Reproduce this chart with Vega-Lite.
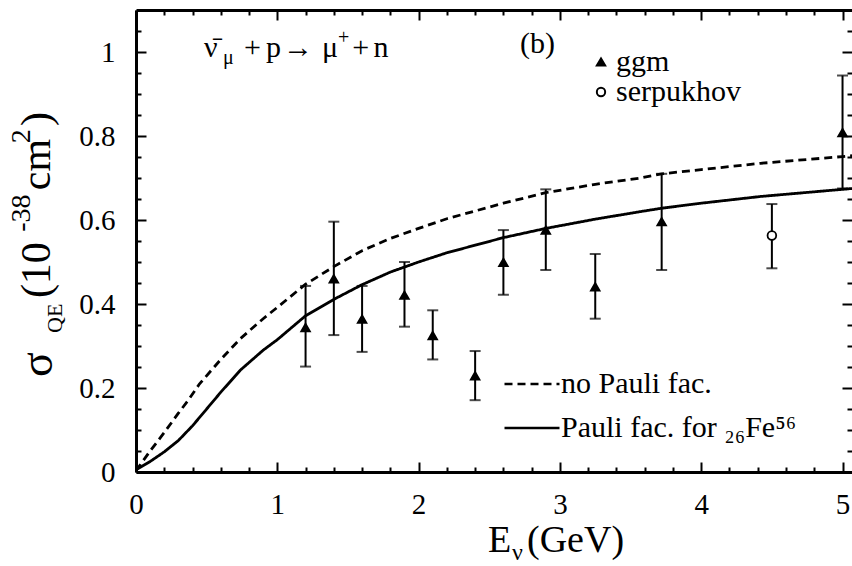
{
"$schema":"https://vega.github.io/schema/vega-lite/v6.json",
"width":716,"height":462,
"autosize":{"type":"none"},
"padding":{"left":136,"top":10,"right":0,"bottom":94},
"background":"white",
"config":{"view":{"stroke":null},
 "font":"Liberation Serif, Times New Roman, Times, serif",
 "axis":{"grid":false,"tickColor":"black","tickWidth":2,"domainColor":"black","domainWidth":3,"labelFont":"Liberation Serif, Times New Roman, Times, serif","labelFontSize":29,"labelColor":"black","labelFlush":false},
 "legend":{"labelFont":"Liberation Serif, Times New Roman, Times, serif","labelColor":"black","labelLimit":500}},
"datasets":{
 "curves":[
  {"curve":"no Pauli fac.","E":0,"sigma":0.003},{"curve":"no Pauli fac.","E":0.1,"sigma":0.05},{"curve":"no Pauli fac.","E":0.2,"sigma":0.094},{"curve":"no Pauli fac.","E":0.3,"sigma":0.14},{"curve":"no Pauli fac.","E":0.37,"sigma":0.171},{"curve":"no Pauli fac.","E":0.45,"sigma":0.21},{"curve":"no Pauli fac.","E":0.6,"sigma":0.268},{"curve":"no Pauli fac.","E":0.74,"sigma":0.318},{"curve":"no Pauli fac.","E":0.9,"sigma":0.365},{"curve":"no Pauli fac.","E":1.0,"sigma":0.392},{"curve":"no Pauli fac.","E":1.2,"sigma":0.447},{"curve":"no Pauli fac.","E":1.4,"sigma":0.489},{"curve":"no Pauli fac.","E":1.6,"sigma":0.527},{"curve":"no Pauli fac.","E":1.8,"sigma":0.556},{"curve":"no Pauli fac.","E":2.0,"sigma":0.58},{"curve":"no Pauli fac.","E":2.2,"sigma":0.603},{"curve":"no Pauli fac.","E":2.6,"sigma":0.64},{"curve":"no Pauli fac.","E":2.9,"sigma":0.665},{"curve":"no Pauli fac.","E":3.25,"sigma":0.685},{"curve":"no Pauli fac.","E":3.57,"sigma":0.7},{"curve":"no Pauli fac.","E":3.72,"sigma":0.71},{"curve":"no Pauli fac.","E":4.0,"sigma":0.72},{"curve":"no Pauli fac.","E":4.42,"sigma":0.735},{"curve":"no Pauli fac.","E":5.0,"sigma":0.751},{"curve":"no Pauli fac.","E":5.067,"sigma":0.753},
  {"curve":"Pauli fac. for ₂₆Fe⁵⁶","E":0,"sigma":0.005},{"curve":"Pauli fac. for ₂₆Fe⁵⁶","E":0.1,"sigma":0.025},{"curve":"Pauli fac. for ₂₆Fe⁵⁶","E":0.2,"sigma":0.048},{"curve":"Pauli fac. for ₂₆Fe⁵⁶","E":0.3,"sigma":0.075},{"curve":"Pauli fac. for ₂₆Fe⁵⁶","E":0.4,"sigma":0.11},{"curve":"Pauli fac. for ₂₆Fe⁵⁶","E":0.5,"sigma":0.15},{"curve":"Pauli fac. for ₂₆Fe⁵⁶","E":0.6,"sigma":0.19},{"curve":"Pauli fac. for ₂₆Fe⁵⁶","E":0.74,"sigma":0.243},{"curve":"Pauli fac. for ₂₆Fe⁵⁶","E":0.9,"sigma":0.29},{"curve":"Pauli fac. for ₂₆Fe⁵⁶","E":1.0,"sigma":0.315},{"curve":"Pauli fac. for ₂₆Fe⁵⁶","E":1.2,"sigma":0.372},{"curve":"Pauli fac. for ₂₆Fe⁵⁶","E":1.4,"sigma":0.411},{"curve":"Pauli fac. for ₂₆Fe⁵⁶","E":1.6,"sigma":0.446},{"curve":"Pauli fac. for ₂₆Fe⁵⁶","E":1.8,"sigma":0.476},{"curve":"Pauli fac. for ₂₆Fe⁵⁶","E":2.0,"sigma":0.5},{"curve":"Pauli fac. for ₂₆Fe⁵⁶","E":2.2,"sigma":0.522},{"curve":"Pauli fac. for ₂₆Fe⁵⁶","E":2.6,"sigma":0.558},{"curve":"Pauli fac. for ₂₆Fe⁵⁶","E":2.9,"sigma":0.58},{"curve":"Pauli fac. for ₂₆Fe⁵⁶","E":3.25,"sigma":0.602},{"curve":"Pauli fac. for ₂₆Fe⁵⁶","E":3.57,"sigma":0.62},{"curve":"Pauli fac. for ₂₆Fe⁵⁶","E":3.72,"sigma":0.628},{"curve":"Pauli fac. for ₂₆Fe⁵⁶","E":4.0,"sigma":0.64},{"curve":"Pauli fac. for ₂₆Fe⁵⁶","E":4.42,"sigma":0.656},{"curve":"Pauli fac. for ₂₆Fe⁵⁶","E":5.0,"sigma":0.673},{"curve":"Pauli fac. for ₂₆Fe⁵⁶","E":5.067,"sigma":0.675}
 ],
 "points":[
  {"exp":"ggm","E":1.2,"sigma":0.344,"lo":0.251,"hi":0.443},
  {"exp":"ggm","E":1.4,"sigma":0.46,"lo":0.326,"hi":0.596},
  {"exp":"ggm","E":1.6,"sigma":0.364,"lo":0.286,"hi":0.443},
  {"exp":"ggm","E":1.9,"sigma":0.421,"lo":0.346,"hi":0.5},
  {"exp":"ggm","E":2.1,"sigma":0.325,"lo":0.268,"hi":0.385},
  {"exp":"ggm","E":2.4,"sigma":0.229,"lo":0.171,"hi":0.288},
  {"exp":"ggm","E":2.6,"sigma":0.499,"lo":0.422,"hi":0.576},
  {"exp":"ggm","E":2.9,"sigma":0.576,"lo":0.481,"hi":0.673},
  {"exp":"ggm","E":3.25,"sigma":0.441,"lo":0.365,"hi":0.519},
  {"exp":"ggm","E":3.72,"sigma":0.596,"lo":0.481,"hi":0.71},
  {"exp":"ggm","E":5.0,"sigma":0.808,"lo":0.675,"hi":0.944},
  {"exp":"serpukhov","E":4.5,"sigma":0.563,"lo":0.485,"hi":0.638}
 ],
 "labels":[
  {"part":"r30","x":0.481,"y":0.988,"text":"ν̄"},
  {"part":"r30","x":0.765,"y":0.988,"text":"+"},
  {"part":"r30","x":0.92,"y":0.988,"text":"p"},
  {"part":"r30","x":1.04,"y":0.988,"text":"→"},
  {"part":"r30","x":1.316,"y":0.988,"text":"μ"},
  {"part":"r30","x":1.53,"y":0.988,"text":"+"},
  {"part":"r30","x":1.68,"y":0.988,"text":"n"},
  {"part":"r30","x":2.718,"y":0.998,"text":"(b)"},
  {"part":"rsub","x":0.616,"y":0.971,"text":"μ"},
  {"part":"rsup","x":1.43,"y":1.019,"text":"+"},
  {"part":"xt","x":2.491,"y":-0.19,"text":"E"},
  {"part":"xt","x":2.767,"y":-0.19,"text":"(GeV)"},
  {"part":"xsub","x":2.661,"y":-0.209,"text":"ν"},
  {"part":"ysig","x":-0.594,"y":0.226,"text":"σ"},
  {"part":"ysub","x":-0.524,"y":0.331,"text":"QE"},
  {"part":"yt","x":-0.609,"y":0.414,"text":"(10"},
  {"part":"yt","x":-0.609,"y":0.671,"text":"cm"},
  {"part":"yt","x":-0.609,"y":0.824,"text":")"},
  {"part":"ysup","x":-0.75,"y":0.572,"text":"-38"},
  {"part":"ysup","x":-0.75,"y":0.783,"text":"2"}
 ]
},
"layer":[
 {"data":{"name":"curves"},
  "mark":{"type":"line","color":"black","strokeWidth":2.8,"clip":true},
  "encoding":{
   "x":{"field":"E","type":"quantitative","scale":{"domain":[0,5.067],"nice":false,"zero":false},
        "axis":{"orient":"bottom","values":[0,1,2,3,4,5],"format":"d","tickSize":-10,"labelPadding":28,"domain":true,"title":null,"labelFlush":false}},
   "y":{"field":"sigma","type":"quantitative","scale":{"domain":[0,1.1],"nice":false,"zero":false},
        "axis":{"orient":"left","values":[0,0.2,0.4,0.6,0.8,1],"format":"~g","tickSize":-10,"labelPadding":31,"domain":true,"title":null,"labelFlush":false}},
   "strokeDash":{"field":"curve","type":"nominal",
     "scale":{"domain":["no Pauli fac.","Pauli fac. for ₂₆Fe⁵⁶"],"range":[[8,5],[1,0]]},
     "legend":{"orient":"none","legendX":367,"legendY":345,"title":null,"labelFont":"Liberation Serif, Times New Roman, Times, serif","labelFontSize":30,"symbolType":"stroke","symbolSize":3025,"symbolStrokeWidth":2.5,"symbolStrokeColor":"black","labelOffset":0,"padding":0,"rowPadding":0}}
  }},
 {"data":{"name":"points"},
  "mark":{"type":"rule","color":"black","strokeWidth":2},
  "encoding":{
   "x":{"field":"E","type":"quantitative","scale":{"domain":[0,5.067],"nice":false,"zero":false},
        "axis":{"orient":"bottom","values":[0.2,0.4,0.6,0.8,1.2,1.4,1.6,1.8,2.2,2.4,2.6,2.8,3.2,3.4,3.6,3.8,4.2,4.4,4.6,4.8],"tickSize":-5,"labels":false,"domain":false,"title":null}},
   "y":{"field":"lo","type":"quantitative","scale":{"domain":[0,1.1],"nice":false,"zero":false},
        "axis":{"orient":"left","values":[0.05,0.1,0.15,0.25,0.3,0.35,0.45,0.5,0.55,0.65,0.7,0.75,0.85,0.9,0.95,1.05],"tickSize":-5,"labels":false,"domain":false,"title":null}},
   "y2":{"field":"hi"}
  }},
 {"data":{"name":"points"},
  "mark":{"type":"tick","orient":"horizontal","color":"black","size":11,"thickness":2},
  "encoding":{
   "x":{"field":"E","type":"quantitative","scale":{"domain":[0,5.067],"nice":false,"zero":false},
        "axis":{"orient":"top","values":[0,1,2,3,4,5],"tickSize":-10,"labels":false,"domain":true,"title":null}},
   "y":{"field":"lo","type":"quantitative","scale":{"domain":[0,1.1],"nice":false,"zero":false},
        "axis":{"orient":"right","values":[0,0.2,0.4,0.6,0.8,1],"tickSize":-10,"labels":false,"domain":false,"title":null}}
  }},
 {"data":{"name":"points"},
  "mark":{"type":"tick","orient":"horizontal","color":"black","size":11,"thickness":2},
  "encoding":{
   "x":{"field":"E","type":"quantitative","scale":{"domain":[0,5.067],"nice":false,"zero":false},
        "axis":{"orient":"top","values":[0.2,0.4,0.6,0.8,1.2,1.4,1.6,1.8,2.2,2.4,2.6,2.8,3.2,3.4,3.6,3.8,4.2,4.4,4.6,4.8],"tickSize":-5,"labels":false,"domain":false,"title":null}},
   "y":{"field":"hi","type":"quantitative","scale":{"domain":[0,1.1],"nice":false,"zero":false},
        "axis":{"orient":"right","values":[0.05,0.1,0.15,0.25,0.3,0.35,0.45,0.5,0.55,0.65,0.7,0.75,0.85,0.9,0.95,1.05],"tickSize":-5,"labels":false,"domain":false,"title":null}}
  }},
 {"data":{"name":"points"},
  "mark":{"type":"point","filled":true,"strokeWidth":1.8,"opacity":1,"size":75},
  "encoding":{
   "x":{"field":"E","type":"quantitative","scale":{"domain":[0,5.067],"nice":false,"zero":false},"axis":null},
   "y":{"field":"sigma","type":"quantitative","scale":{"domain":[0,1.1],"nice":false,"zero":false},"axis":null},
   "shape":{"field":"exp","type":"nominal","scale":{"domain":["ggm","serpukhov"],"range":["triangle-up","circle"]},
     "legend":{"orient":"none","legendX":450,"legendY":37,"title":null,"labelFont":"Liberation Serif, Times New Roman, Times, serif","labelFontSize":30,"symbolSize":70,"symbolStrokeWidth":2,"labelOffset":0,"padding":0,"rowPadding":0}},
   "fill":{"field":"exp","type":"nominal","scale":{"domain":["ggm","serpukhov"],"range":["black","white"]},
     "legend":{"orient":"none","legendX":450,"legendY":37,"title":null,"labelFont":"Liberation Serif, Times New Roman, Times, serif","labelFontSize":30,"symbolSize":70,"symbolStrokeWidth":2,"labelOffset":0,"padding":0,"rowPadding":0}},
   "stroke":{"field":"exp","type":"nominal","scale":{"domain":["ggm","serpukhov"],"range":["black","black"]},
     "legend":{"orient":"none","legendX":450,"legendY":37,"title":null,"labelFont":"Liberation Serif, Times New Roman, Times, serif","labelFontSize":30,"symbolSize":70,"symbolStrokeWidth":2,"labelOffset":0,"padding":0,"rowPadding":0}}
  }},
 {"data":{"name":"labels"},"transform":[{"filter":"datum.part==='r30'"}],
  "mark":{"type":"text","align":"left","baseline":"alphabetic","font":"Liberation Serif, Times New Roman, Times, serif","fontSize":30,"color":"black"},
  "encoding":{"x":{"field":"x","type":"quantitative","scale":{"domain":[0,5.067],"nice":false,"zero":false},"axis":null},
   "y":{"field":"y","type":"quantitative","scale":{"domain":[0,1.1],"nice":false,"zero":false},"axis":null},"text":{"field":"text"}}},
 {"data":{"name":"labels"},"transform":[{"filter":"datum.part==='rsub' || datum.part==='rsup'"}],
  "mark":{"type":"text","align":"left","baseline":"alphabetic","font":"Liberation Serif, Times New Roman, Times, serif","fontSize":20,"color":"black"},
  "encoding":{"x":{"field":"x","type":"quantitative","scale":{"domain":[0,5.067],"nice":false,"zero":false},"axis":null},
   "y":{"field":"y","type":"quantitative","scale":{"domain":[0,1.1],"nice":false,"zero":false},"axis":null},"text":{"field":"text"}}},
 {"data":{"name":"labels"},"transform":[{"filter":"datum.part==='xt'"}],
  "mark":{"type":"text","align":"left","baseline":"alphabetic","font":"Liberation Serif, Times New Roman, Times, serif","fontSize":38,"color":"black"},
  "encoding":{"x":{"field":"x","type":"quantitative","scale":{"domain":[0,5.067],"nice":false,"zero":false},"axis":null},
   "y":{"field":"y","type":"quantitative","scale":{"domain":[0,1.1],"nice":false,"zero":false},"axis":null},"text":{"field":"text"}}},
 {"data":{"name":"labels"},"transform":[{"filter":"datum.part==='xsub'"}],
  "mark":{"type":"text","align":"left","baseline":"alphabetic","font":"Liberation Serif, Times New Roman, Times, serif","fontSize":24,"color":"black"},
  "encoding":{"x":{"field":"x","type":"quantitative","scale":{"domain":[0,5.067],"nice":false,"zero":false},"axis":null},
   "y":{"field":"y","type":"quantitative","scale":{"domain":[0,1.1],"nice":false,"zero":false},"axis":null},"text":{"field":"text"}}},
 {"data":{"name":"labels"},"transform":[{"filter":"datum.part==='yt'"}],
  "mark":{"type":"text","align":"left","baseline":"alphabetic","angle":270,"font":"Liberation Serif, Times New Roman, Times, serif","fontSize":42,"color":"black"},
  "encoding":{"x":{"field":"x","type":"quantitative","scale":{"domain":[0,5.067],"nice":false,"zero":false},"axis":null},
   "y":{"field":"y","type":"quantitative","scale":{"domain":[0,1.1],"nice":false,"zero":false},"axis":null},"text":{"field":"text"}}},
 {"data":{"name":"labels"},"transform":[{"filter":"datum.part==='ysig'"}],
  "mark":{"type":"text","align":"left","baseline":"alphabetic","angle":270,"font":"Liberation Serif, Times New Roman, Times, serif","fontSize":46,"color":"black"},
  "encoding":{"x":{"field":"x","type":"quantitative","scale":{"domain":[0,5.067],"nice":false,"zero":false},"axis":null},
   "y":{"field":"y","type":"quantitative","scale":{"domain":[0,1.1],"nice":false,"zero":false},"axis":null},"text":{"field":"text"}}},
 {"data":{"name":"labels"},"transform":[{"filter":"datum.part==='ysub'"}],
  "mark":{"type":"text","align":"left","baseline":"alphabetic","angle":270,"font":"Liberation Serif, Times New Roman, Times, serif","fontSize":22,"color":"black"},
  "encoding":{"x":{"field":"x","type":"quantitative","scale":{"domain":[0,5.067],"nice":false,"zero":false},"axis":null},
   "y":{"field":"y","type":"quantitative","scale":{"domain":[0,1.1],"nice":false,"zero":false},"axis":null},"text":{"field":"text"}}},
 {"data":{"name":"labels"},"transform":[{"filter":"datum.part==='ysup'"}],
  "mark":{"type":"text","align":"left","baseline":"alphabetic","angle":270,"font":"Liberation Serif, Times New Roman, Times, serif","fontSize":28,"color":"black"},
  "encoding":{"x":{"field":"x","type":"quantitative","scale":{"domain":[0,5.067],"nice":false,"zero":false},"axis":null},
   "y":{"field":"y","type":"quantitative","scale":{"domain":[0,1.1],"nice":false,"zero":false},"axis":null},"text":{"field":"text"}}}
],
"resolve":{"axis":{"x":"independent","y":"independent"}}
}
